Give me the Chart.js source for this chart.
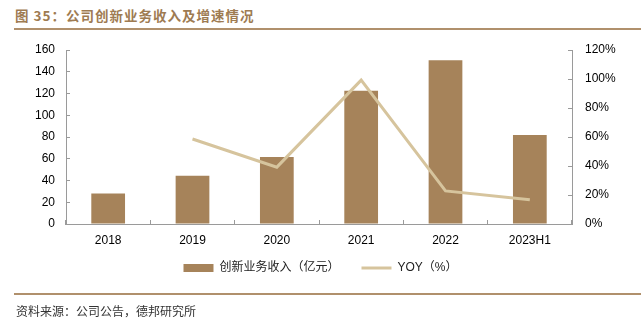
<!DOCTYPE html>
<html><head><meta charset="utf-8">
<script src="https://cdn.jsdelivr.net/npm/chart.js@4"></script>
<style>
html,body{margin:0;padding:0;background:#fff;}
#wrap{position:relative;width:641px;height:332px;overflow:hidden;}
#c{position:absolute;left:0;top:0;}
.title{position:absolute;left:15px;top:5px;font:bold 13.5px "Noto Sans CJK SC","Liberation Sans",sans-serif;color:#9E7B52;letter-spacing:1px;white-space:nowrap;}
.hl{position:absolute;left:14px;right:0;height:2px;background:#B0906C;}
.src{position:absolute;left:16px;top:302px;font:12px "Noto Sans CJK SC",sans-serif;color:#333;white-space:nowrap;}
</style></head>
<body><div id="wrap">
<div class="title">图 35：公司创新业务收入及增速情况</div>
<div class="hl" style="top:28px"></div>
<canvas id="c" width="641" height="332"></canvas>
<div class="hl" style="top:293px;height:1.5px"></div>
<div class="src">资料来源：公司公告，德邦研究所</div>
</div>
<script>
const categories = ['2018','2019','2020','2021','2022','2023H1'];
const revenue = [28, 44.4, 61.6, 122.6, 150.5, 81.8];
const yoy = [null, 58.6, 39.2, 99.2, 22.8, 16.8];
const barLabel = '创新业务收入（亿元）';
const lineLabel = 'YOY（%）';

const axisColor = '#9a9a9a';
const font = {family:'"Liberation Sans","Noto Sans CJK SC",sans-serif', size:12};

new Chart(document.getElementById('c'), {
  data: {
    labels: categories,
    datasets: [
      {type:'bar', label:barLabel, data:revenue, yAxisID:'y', backgroundColor:'#A6835A',
       borderWidth:0, categoryPercentage:1, barPercentage:0.4, order:2, pointStyle:'rect'},
      {type:'line', label:lineLabel, data:yoy, yAxisID:'y1', borderColor:'#D6C49D', backgroundColor:'#D6C49D',
       borderWidth:3, tension:0, pointRadius:0, pointHoverRadius:0, pointBorderWidth:3,
       pointBorderColor:'#D6C49D', pointStyle:'line', order:1, spanGaps:false}
    ]
  },
  options: {
    responsive:false, animation:false, events:[],
    layout:{padding:{top:50, bottom:48, left:0, right:0}},
    plugins:{
      tooltip:{enabled:false},
      legend:{position:'bottom', labels:{usePointStyle:true, pointStyleWidth:30, boxHeight:8,
        padding:10, color:'#222', font:font,
        sort:(a,b)=>a.datasetIndex-b.datasetIndex,
        generateLabels(chart){
          const items = Chart.defaults.plugins.legend.labels.generateLabels(chart);
          items.forEach(it=>{ if(it.datasetIndex===0) it.text = it.text + '\u3000\u2002'; });
          return items;
        }}}
    },
    scales:{
      x:{grid:{display:true, drawOnChartArea:false, tickLength:-4, color:axisColor, offset:true},
         border:{display:true, color:axisColor},
         ticks:{color:'#000', font:font, padding:13, maxRotation:0},
         afterFit(s){s.height=28;}},
      y:{position:'left', min:0, max:160,
         grid:{drawOnChartArea:false, tickLength:-4, color:axisColor},
         border:{color:axisColor},
         ticks:{stepSize:20, color:'#000', font:font, padding:15},
         afterFit(s){s.width=66;}},
      y1:{position:'right', min:0, max:120,
         grid:{drawOnChartArea:false, tickLength:-4, color:axisColor},
         border:{color:axisColor},
         ticks:{stepSize:20, color:'#000', font:font, padding:17, callback:v=>v+'%'},
         afterFit(s){s.width=69;}}
    }
  }
});
</script>
</body></html>
